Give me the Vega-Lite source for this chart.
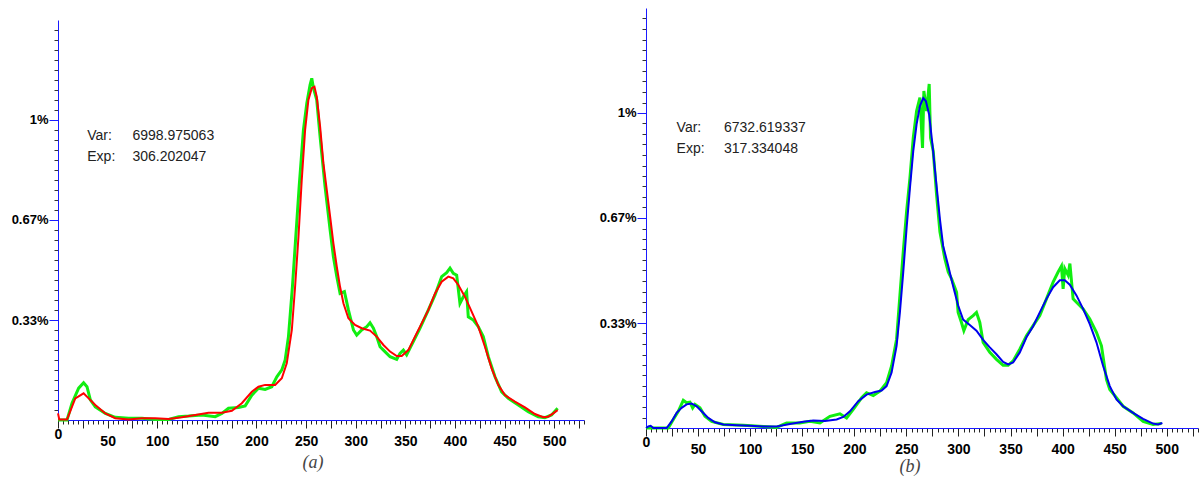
{
  "$schema": "https://vega.github.io/schema/vega-lite/v6.json",
  "padding": {"left": 11, "top": 8, "right": 2, "bottom": 2},
  "spacing": 14,
  "background": "white",
  "config": {
    "view": {"stroke": null}
  },
  "datasets": {
    "a_green": [
      {"x":0,"y":0},{"x":9.1,"y":0},{"x":14.1,"y":0.056},{"x":20.8,"y":0.106},{"x":25.8,"y":0.124},{"x":29.2,"y":0.111},{"x":32.6,"y":0.067},{"x":37.6,"y":0.044},{"x":47.7,"y":0.022},{"x":57.7,"y":0.009},{"x":71.1,"y":0.006},{"x":84.6,"y":0.006},{"x":98,"y":0.002},{"x":111.4,"y":0.002},{"x":121.5,"y":0.011},{"x":131.5,"y":0.013},{"x":145,"y":0.017},{"x":158.4,"y":0.011},{"x":165.1,"y":0.022},{"x":171.8,"y":0.039},{"x":181.9,"y":0.042},{"x":188.6,"y":0.047},{"x":195.3,"y":0.083},{"x":202,"y":0.106},{"x":208.7,"y":0.102},{"x":215.4,"y":0.111},{"x":220.5,"y":0.144},{"x":225.5,"y":0.167},{"x":228.9,"y":0.2},{"x":232.2,"y":0.278},{"x":236.2,"y":0.444},{"x":239.6,"y":0.611},{"x":243,"y":0.778},{"x":247.3,"y":0.967},{"x":250.7,"y":1.056},{"x":254,"y":1.117},{"x":255.7,"y":1.139},{"x":257.4,"y":1.106},{"x":260.7,"y":1.067},{"x":264.1,"y":0.944},{"x":269.1,"y":0.778},{"x":274.2,"y":0.633},{"x":277.5,"y":0.544},{"x":280.9,"y":0.478},{"x":284.2,"y":0.422},{"x":288.6,"y":0.428},{"x":292.6,"y":0.367},{"x":297.7,"y":0.3},{"x":301,"y":0.283},{"x":306,"y":0.3},{"x":311.1,"y":0.311},{"x":314.4,"y":0.324},{"x":317.8,"y":0.306},{"x":321.1,"y":0.278},{"x":324.5,"y":0.244},{"x":327.9,"y":0.233},{"x":334.6,"y":0.211},{"x":341.3,"y":0.202},{"x":344.6,"y":0.222},{"x":348,"y":0.233},{"x":351.3,"y":0.217},{"x":358,"y":0.261},{"x":364.8,"y":0.306},{"x":373.2,"y":0.367},{"x":379.9,"y":0.417},{"x":386.6,"y":0.478},{"x":391.6,"y":0.491},{"x":395,"y":0.506},{"x":398.3,"y":0.489},{"x":401.7,"y":0.483},{"x":405,"y":0.389},{"x":408.4,"y":0.411},{"x":411.7,"y":0.428},{"x":413.4,"y":0.344},{"x":418.5,"y":0.333},{"x":423.5,"y":0.311},{"x":428.5,"y":0.278},{"x":433.6,"y":0.211},{"x":440.3,"y":0.144},{"x":447,"y":0.094},{"x":453.7,"y":0.072},{"x":463.8,"y":0.05},{"x":473.8,"y":0.028},{"x":483.9,"y":0.011},{"x":490.6,"y":0.008},{"x":497.3,"y":0.017},{"x":503.4,"y":0.039}
    ],
    "a_fit": [
      {"x":0,"y":0.022},{"x":1.3,"y":0.002},{"x":9.1,"y":0.002},{"x":17.4,"y":0.072},{"x":25.8,"y":0.089},{"x":30.9,"y":0.072},{"x":37.6,"y":0.05},{"x":47.7,"y":0.022},{"x":57.7,"y":0.006},{"x":71.1,"y":0.002},{"x":84.6,"y":0.006},{"x":98,"y":0.006},{"x":111.4,"y":0.003},{"x":124.8,"y":0.009},{"x":138.3,"y":0.017},{"x":151.7,"y":0.024},{"x":165.1,"y":0.024},{"x":175.2,"y":0.031},{"x":185.2,"y":0.056},{"x":195.3,"y":0.094},{"x":202,"y":0.111},{"x":208.7,"y":0.117},{"x":218.8,"y":0.117},{"x":225.5,"y":0.139},{"x":230.5,"y":0.189},{"x":235.6,"y":0.3},{"x":238.9,"y":0.444},{"x":242.3,"y":0.611},{"x":245.6,"y":0.8},{"x":249,"y":0.967},{"x":252.3,"y":1.067},{"x":255.7,"y":1.106},{"x":258.4,"y":1.111},{"x":260.7,"y":1.078},{"x":264.1,"y":0.978},{"x":267.4,"y":0.856},{"x":270.8,"y":0.767},{"x":274.2,"y":0.678},{"x":277.5,"y":0.589},{"x":280.9,"y":0.511},{"x":284.2,"y":0.444},{"x":287.6,"y":0.389},{"x":292.6,"y":0.339},{"x":299.3,"y":0.317},{"x":306,"y":0.306},{"x":314.4,"y":0.298},{"x":321.1,"y":0.278},{"x":327.9,"y":0.25},{"x":334.6,"y":0.228},{"x":341.3,"y":0.213},{"x":346.3,"y":0.213},{"x":353,"y":0.233},{"x":359.7,"y":0.278},{"x":366.4,"y":0.322},{"x":373.2,"y":0.367},{"x":379.9,"y":0.422},{"x":386.6,"y":0.461},{"x":393.3,"y":0.478},{"x":398.3,"y":0.472},{"x":403.4,"y":0.45},{"x":410,"y":0.411},{"x":416.8,"y":0.361},{"x":423.5,"y":0.311},{"x":430.2,"y":0.244},{"x":436.9,"y":0.172},{"x":443.6,"y":0.117},{"x":450.3,"y":0.083},{"x":460.4,"y":0.061},{"x":470.5,"y":0.042},{"x":480.5,"y":0.02},{"x":488.9,"y":0.009},{"x":493.9,"y":0.011},{"x":499,"y":0.022},{"x":503.4,"y":0.033}
    ],
    "b_green": [
      {"x":0,"y":0},{"x":21.4,"y":0},{"x":26.2,"y":0.027},{"x":31,"y":0.053},{"x":35.8,"y":0.088},{"x":39,"y":0.08},{"x":42.2,"y":0.082},{"x":44.8,"y":0.064},{"x":47,"y":0.075},{"x":51.8,"y":0.064},{"x":56.6,"y":0.037},{"x":63,"y":0.021},{"x":74.2,"y":0.011},{"x":93.4,"y":0.009},{"x":112.6,"y":0.005},{"x":125.4,"y":0.002},{"x":135,"y":0.016},{"x":147.8,"y":0.016},{"x":157.4,"y":0.021},{"x":167,"y":0.016},{"x":176.6,"y":0.037},{"x":186.2,"y":0.045},{"x":192.6,"y":0.032},{"x":199,"y":0.059},{"x":207,"y":0.096},{"x":211.8,"y":0.112},{"x":218.2,"y":0.103},{"x":224.6,"y":0.117},{"x":231,"y":0.144},{"x":235.8,"y":0.197},{"x":240.6,"y":0.282},{"x":243.8,"y":0.421},{"x":247,"y":0.559},{"x":250.2,"y":0.687},{"x":253.4,"y":0.793},{"x":256.6,"y":0.921},{"x":259.8,"y":1.006},{"x":263,"y":1.049},{"x":265.5,"y":0.889},{"x":266.8,"y":1.07},{"x":269.4,"y":1.006},{"x":271.9,"y":1.092},{"x":273.2,"y":0.921},{"x":275.8,"y":0.879},{"x":279,"y":0.74},{"x":282.2,"y":0.623},{"x":286.9,"y":0.538},{"x":290.2,"y":0.495},{"x":293.3,"y":0.474},{"x":298.2,"y":0.431},{"x":299.7,"y":0.367},{"x":302.9,"y":0.335},{"x":305.2,"y":0.309},{"x":309.3,"y":0.344},{"x":314.1,"y":0.357},{"x":317.3,"y":0.367},{"x":320.5,"y":0.335},{"x":323.7,"y":0.272},{"x":330.1,"y":0.24},{"x":336.5,"y":0.218},{"x":342.9,"y":0.199},{"x":347.7,"y":0.199},{"x":352.5,"y":0.213},{"x":358.9,"y":0.25},{"x":365.3,"y":0.293},{"x":371.7,"y":0.325},{"x":378.1,"y":0.357},{"x":384.5,"y":0.41},{"x":390.9,"y":0.463},{"x":395.7,"y":0.495},{"x":398.9,"y":0.514},{"x":400.5,"y":0.442},{"x":402.1,"y":0.506},{"x":405.3,"y":0.485},{"x":407,"y":0.522},{"x":410.1,"y":0.41},{"x":413.3,"y":0.399},{"x":419.7,"y":0.378},{"x":426.1,"y":0.346},{"x":432.5,"y":0.304},{"x":437.3,"y":0.261},{"x":442.1,"y":0.154},{"x":445.3,"y":0.122},{"x":451.7,"y":0.096},{"x":458.1,"y":0.069},{"x":467.7,"y":0.048},{"x":477.3,"y":0.021},{"x":486.9,"y":0.011},{"x":494.9,"y":0.014}
    ],
    "b_fit": [
      {"x":0,"y":0},{"x":2.2,"y":0.005},{"x":4.5,"y":0.007},{"x":7,"y":0},{"x":19.8,"y":0},{"x":24.6,"y":0.021},{"x":29.4,"y":0.048},{"x":34.2,"y":0.064},{"x":39,"y":0.075},{"x":43.8,"y":0.078},{"x":48.6,"y":0.069},{"x":53.4,"y":0.053},{"x":59.8,"y":0.032},{"x":66.2,"y":0.018},{"x":74.2,"y":0.011},{"x":87,"y":0.009},{"x":99.8,"y":0.007},{"x":112.6,"y":0.005},{"x":125.4,"y":0.005},{"x":138.2,"y":0.013},{"x":151,"y":0.02},{"x":160.6,"y":0.024},{"x":171.8,"y":0.022},{"x":183,"y":0.027},{"x":189.4,"y":0.035},{"x":195.8,"y":0.053},{"x":203.8,"y":0.085},{"x":211.8,"y":0.106},{"x":219.8,"y":0.114},{"x":226.2,"y":0.119},{"x":231,"y":0.133},{"x":235.8,"y":0.176},{"x":240.6,"y":0.261},{"x":243.8,"y":0.368},{"x":247,"y":0.495},{"x":250.2,"y":0.634},{"x":253.4,"y":0.761},{"x":256.6,"y":0.879},{"x":259.8,"y":0.964},{"x":263,"y":1.022},{"x":266.2,"y":1.047},{"x":268.7,"y":1.038},{"x":271.9,"y":0.994},{"x":275.1,"y":0.898},{"x":278.3,"y":0.791},{"x":282.2,"y":0.663},{"x":285.3,"y":0.578},{"x":290.2,"y":0.514},{"x":294.9,"y":0.45},{"x":299.7,"y":0.389},{"x":304.5,"y":0.344},{"x":310.9,"y":0.327},{"x":317.3,"y":0.309},{"x":323.7,"y":0.28},{"x":330.1,"y":0.256},{"x":336.5,"y":0.234},{"x":342.9,"y":0.21},{"x":347.7,"y":0.202},{"x":352.5,"y":0.208},{"x":358.9,"y":0.24},{"x":365.3,"y":0.288},{"x":371.7,"y":0.323},{"x":378.1,"y":0.367},{"x":384.5,"y":0.41},{"x":390.9,"y":0.447},{"x":397.3,"y":0.469},{"x":402.1,"y":0.469},{"x":406.9,"y":0.455},{"x":413.3,"y":0.421},{"x":419.7,"y":0.378},{"x":426.1,"y":0.33},{"x":432.5,"y":0.272},{"x":438.9,"y":0.197},{"x":445.3,"y":0.133},{"x":451.7,"y":0.091},{"x":458.1,"y":0.069},{"x":467.7,"y":0.048},{"x":477.3,"y":0.029},{"x":486.9,"y":0.014},{"x":491.7,"y":0.011},{"x":495.8,"y":0.016}
    ],
    "a_text": [
      {"x":29.5,"y":0.945,"t":"Var:"},{"x":75,"y":0.945,"t":"6998.975063"},
      {"x":29.5,"y":0.878,"t":"Exp:"},{"x":75,"y":0.878,"t":"306.202047"}
    ],
    "b_text": [
      {"x":29.4,"y":0.952,"t":"Var:"},{"x":74.9,"y":0.952,"t":"6732.619337"},
      {"x":29.4,"y":0.885,"t":"Exp:"},{"x":74.9,"y":0.885,"t":"317.334048"}
    ]
  },
  "hconcat": [
    {
      "width": 526,
      "height": 412,
      "title": {"text": "(a)", "orient": "bottom", "anchor": "middle", "font": "Liberation Serif", "fontStyle": "italic", "fontWeight": "normal", "fontSize": 18, "color": "#444444", "offset": 6, "dx": -8},
      "encoding": {
        "x": {"field": "x", "type": "quantitative", "scale": {"domain": [0, 530], "nice": false, "zero": true},
          "axis": {
            "values": [0,5,10,15,20,25,30,35,40,45,50,55,60,65,70,75,80,85,90,95,100,105,110,115,120,125,130,135,140,145,150,155,160,165,170,175,180,185,190,195,200,205,210,215,220,225,230,235,240,245,250,255,260,265,270,275,280,285,290,295,300,305,310,315,320,325,330,335,340,345,350,355,360,365,370,375,380,385,390,395,400,405,410,415,420,425,430,435,440,445,450,455,460,465,470,475,480,485,490,495,500,505,510,515,520,525,530],
            "domainColor": "#1a1aff", "domainWidth": 1,
            "tickColor": "#222222", "tickWidth": 1,
            "tickSize": {"condition": {"test": "datum.value % 25 === 0", "value": 8}, "value": 4},
            "labelExpr": "datum.value % 50 === 0 && datum.value <= 500 ? datum.label : ''",
            "labelFont": "Liberation Sans", "labelFontWeight": "bold", "labelFontSize": 14, "labelColor": "#000000",
            "labelPadding": {"condition": {"test": "datum.value === 0", "value": -1}, "value": 6},
            "labelFlush": false, "labelOverlap": false, "grid": false, "title": null, "format": "d"
          }},
        "y": {"field": "y", "type": "quantitative", "scale": {"domain": [0, 1.3333], "nice": false, "zero": true, "range": [412, 12]},
          "axis": {
            "values": [0.0333,0.0667,0.1,0.1333,0.1667,0.2,0.2333,0.2667,0.3,0.3333,0.3667,0.4,0.4333,0.4667,0.5,0.5333,0.5667,0.6,0.6333,0.6667,0.7,0.7333,0.7667,0.8,0.8333,0.8667,0.9,0.9333,0.9667,1,1.0333,1.0667,1.1,1.1333,1.1667,1.2,1.2333,1.2667,1.3],
            "domainColor": "#1a1aff", "domainWidth": 1,
            "tickColor": {"condition": {"test": "abs(datum.value*3 - round(datum.value*3)) < 0.01", "value": "#1a1aff"}, "value": "#333333"},
            "tickSize": {"condition": {"test": "abs(datum.value*3 - round(datum.value*3)) < 0.01", "value": 9}, "value": 4},
            "tickWidth": 1,
            "labelExpr": "abs(datum.value-1)<0.01 ? '1%' : abs(datum.value-0.6667)<0.01 ? '0.67%' : abs(datum.value-0.3333)<0.01 ? '0.33%' : ''",
            "labelFont": "Liberation Sans", "labelFontWeight": "bold", "labelFontSize": 13, "labelColor": "#000000",
            "labelPadding": 1, "labelOverlap": false, "grid": false, "title": null
          }}
      },
      "layer": [
        {"data": {"name": "a_green"}, "mark": {"type": "line", "color": "#11ee11", "strokeWidth": 3}},
        {"data": {"name": "a_fit"}, "mark": {"type": "line", "color": "#ff0000", "strokeWidth": 2}},
        {"data": {"name": "a_text"}, "mark": {"type": "text", "align": "left", "baseline": "middle", "font": "Liberation Sans", "fontSize": 14, "color": "#222222"}, "encoding": {"text": {"field": "t"}}}
      ]
    },
    {
      "width": 552,
      "height": 420,
      "title": {"text": "(b)", "orient": "bottom", "anchor": "middle", "font": "Liberation Serif", "fontStyle": "italic", "fontWeight": "normal", "fontSize": 18, "color": "#444444", "offset": 2, "dx": -12},
      "encoding": {
        "x": {"field": "x", "type": "quantitative", "scale": {"domain": [0, 530], "nice": false, "zero": true},
          "axis": {
            "values": [0,5,10,15,20,25,30,35,40,45,50,55,60,65,70,75,80,85,90,95,100,105,110,115,120,125,130,135,140,145,150,155,160,165,170,175,180,185,190,195,200,205,210,215,220,225,230,235,240,245,250,255,260,265,270,275,280,285,290,295,300,305,310,315,320,325,330,335,340,345,350,355,360,365,370,375,380,385,390,395,400,405,410,415,420,425,430,435,440,445,450,455,460,465,470,475,480,485,490,495,500,505,510,515,520,525,530],
            "domainColor": "#1a1aff", "domainWidth": 1,
            "tickColor": "#222222", "tickWidth": 1,
            "tickSize": {"condition": {"test": "datum.value % 25 === 0", "value": 8}, "value": 4},
            "labelExpr": "datum.value % 50 === 0 && datum.value <= 500 ? datum.label : ''",
            "labelFont": "Liberation Sans", "labelFontWeight": "bold", "labelFontSize": 14, "labelColor": "#000000",
            "labelPadding": {"condition": {"test": "datum.value === 0", "value": -1}, "value": 6},
            "labelFlush": false, "labelOverlap": false, "grid": false, "title": null, "format": "d"
          }},
        "y": {"field": "y", "type": "quantitative", "scale": {"domain": [0, 1.3333], "nice": false, "zero": true},
          "axis": {
            "values": [0.0333,0.0667,0.1,0.1333,0.1667,0.2,0.2333,0.2667,0.3,0.3333,0.3667,0.4,0.4333,0.4667,0.5,0.5333,0.5667,0.6,0.6333,0.6667,0.7,0.7333,0.7667,0.8,0.8333,0.8667,0.9,0.9333,0.9667,1,1.0333,1.0667,1.1,1.1333,1.1667,1.2,1.2333,1.2667,1.3],
            "domainColor": "#1a1aff", "domainWidth": 1,
            "tickColor": {"condition": {"test": "abs(datum.value*3 - round(datum.value*3)) < 0.01", "value": "#1a1aff"}, "value": "#333333"},
            "tickSize": {"condition": {"test": "abs(datum.value*3 - round(datum.value*3)) < 0.01", "value": 9}, "value": 4},
            "tickWidth": 1,
            "labelExpr": "abs(datum.value-1)<0.01 ? '1%' : abs(datum.value-0.6667)<0.01 ? '0.67%' : abs(datum.value-0.3333)<0.01 ? '0.33%' : ''",
            "labelFont": "Liberation Sans", "labelFontWeight": "bold", "labelFontSize": 13, "labelColor": "#000000",
            "labelPadding": 1, "labelOverlap": false, "grid": false, "title": null
          }}
      },
      "layer": [
        {"data": {"name": "b_green"}, "mark": {"type": "line", "color": "#11ee11", "strokeWidth": 3}},
        {"data": {"name": "b_fit"}, "mark": {"type": "line", "color": "#0000ee", "strokeWidth": 2}},
        {"data": {"name": "b_text"}, "mark": {"type": "text", "align": "left", "baseline": "middle", "font": "Liberation Sans", "fontSize": 14, "color": "#222222"}, "encoding": {"text": {"field": "t"}}}
      ]
    }
  ]
}
